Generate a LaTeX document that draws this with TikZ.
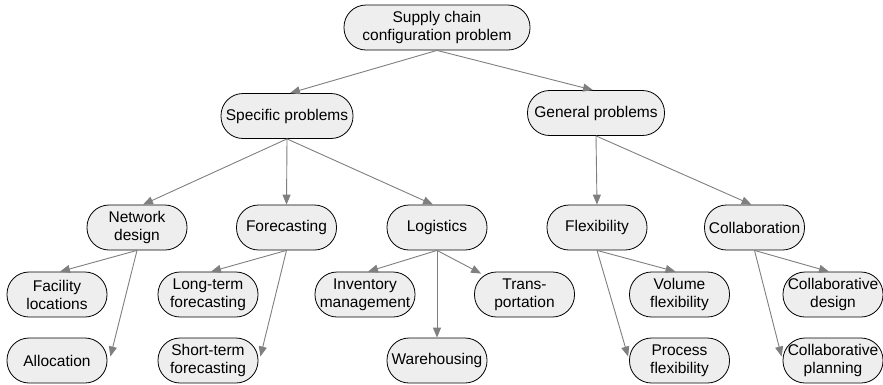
\documentclass[tikz,border=0pt]{standalone}
\usepackage{fontspec}
\setmainfont{Liberation Sans}
\usetikzlibrary{arrows.meta,calc}
\definecolor{boxfill}{HTML}{EEEEEE}
\definecolor{edgegray}{HTML}{7F7F7F}
\begin{document}
\begin{tikzpicture}[x=1pt,y=-1pt,
  box/.style={draw=black,line width=0.8pt,fill=boxfill,rounded corners=22pt,
    minimum width=100pt,minimum height=45pt,inner sep=0pt,align=center,
    font=\fontsize{15.5}{18}\selectfont},
  link/.style={draw=edgegray,line width=0.9pt,-{Triangle[length=10pt,width=8pt]}}]
\useasboundingbox (0,0) rectangle (883,384);
% top levels
\node[box,minimum width=186pt] (root) at (437,27.5) {Supply chain\\configuration problem};
\node[box,minimum width=132pt] (spec) at (287,116) {Specific problems};
\node[box,minimum width=137pt] (gen) at (596,113) {General problems};
% second level
\node[box] (net) at (137,227.5) {Network\\design};
\node[box] (fore) at (286.5,227.5) {Forecasting};
\node[box] (logi) at (437,227.5) {Logistics};
\node[box] (flex) at (597,227.5) {Flexibility};
\node[box] (coll) at (754.5,227.5) {Collaboration};
% leaves
\node[box] (fac) at (57,294.5) {Facility\\locations};
\node[box] (alloc) at (57,360.5) {Allocation};
\node[box] (lterm) at (208,294.5) {Long-term\\forecasting};
\node[box] (sterm) at (208,360.5) {Short-term\\forecasting};
\node[box] (inv) at (365,294.5) {Inventory\\management};
\node[box] (ware) at (437,360.5) {Warehousing};
\node[box] (trans) at (524.5,294.5) {Trans-\\portation};
\node[box] (vol) at (679.5,294.5) {Volume\\flexibility};
\node[box] (proc) at (679.5,360.5) {Process\\flexibility};
\node[box] (cdes) at (833,294.5) {Collaborative\\design};
\node[box] (cplan) at (833,360.5) {Collaborative\\planning};
% connectors
\draw[link] (root.south) -- ($(spec.north)+(3,0)$);
\draw[link] (root.south) -- ($(gen.north)+(-3,0)$);
\draw[link] (spec.south) -- ($(net.north)+(6,0)$);
\draw[link] (spec.south) -- (fore.north);
\draw[link] (spec.south) -- ($(logi.north)+(-4,0)$);
\draw[link] (gen.south) -- (flex.north);
\draw[link] (gen.south) -- ($(coll.north)+(-3,0)$);
\draw[link] (net.south) -- ($(fac.north)+(3,0)$);
\draw[link] (net.south) -- ($(alloc.east)+(3,-4)$);
\draw[link] (fore.south) -- ($(lterm.north)+(3,0)$);
\draw[link] (fore.south) -- ($(sterm.east)+(2,-4)$);
\draw[link] (logi.south) -- ($(inv.north)+(3,0)$);
\draw[link] (logi.south) -- (ware.north);
\draw[link] (logi.south) -- ($(trans.north west)+(7,2)$);
\draw[link] (flex.south) -- ($(vol.north)+(-4,0)$);
\draw[link] (flex.south) -- ($(proc.west)+(-1,-4)$);
\draw[link] (coll.south) -- ($(cdes.north)+(-4,0)$);
\draw[link] (coll.south) -- ($(cplan.west)+(-1,-4)$);
\end{tikzpicture}
\end{document}
